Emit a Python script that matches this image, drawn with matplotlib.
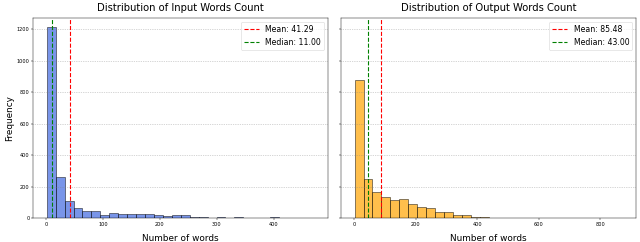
import matplotlib
matplotlib.use("Agg")
import matplotlib.pyplot as plt
import numpy as np

# histogram counts (30 bins each)
input_counts = [1210, 261, 110, 62, 43, 43, 19, 32, 26, 26,
                26, 26, 17, 11, 21, 17, 8, 7, 3, 6,
                2, 5, 2, 3, 3, 6, 1, 1, 1, 1]
input_min, input_max = 1, 472
input_mean, input_median = 41.29, 11.00

output_counts = [877, 249, 166, 136, 115, 124, 87, 68, 62, 40,
                 36, 19, 17, 6, 4, 3, 3, 2, 1, 1,
                 1, 0, 0, 0, 0, 0, 0, 0, 1, 2]
output_min, output_max = 1, 874
output_mean, output_median = 85.48, 43.00


def plot_panel(ax, counts, lo, hi, mean, median, color, title):
    edges = np.linspace(lo, hi, len(counts) + 1)
    ax.hist(edges[:-1], bins=edges, weights=counts, color=color,
            alpha=0.7, edgecolor="black", linewidth=1.2)
    ax.axvline(mean, color="red", linestyle="--", linewidth=2, label=f"Mean: {mean:.2f}")
    ax.axvline(median, color="green", linestyle="--", linewidth=2, label=f"Median: {median:.2f}")
    ax.set_title(title, fontsize=18, pad=12)
    ax.set_xlabel("Number of words", fontsize=16, labelpad=12)
    ax.grid(axis="y", linestyle=":", color="gray", linewidth=1.2, alpha=0.7)
    ax.tick_params(labelsize=9)
    ax.legend(fontsize=14, loc="upper right")


fig, (ax1, ax2) = plt.subplots(1, 2, figsize=(16, 6.05), dpi=40, sharey=True)

plot_panel(ax1, input_counts, input_min, input_max, input_mean, input_median,
           "royalblue", "Distribution of Input Words Count")
plot_panel(ax2, output_counts, output_min, output_max, output_mean, output_median,
           "orange", "Distribution of Output Words Count")
ax1.set_ylabel("Frequency", fontsize=16)

plt.subplots_adjust(left=0.052, right=0.994, bottom=0.099, top=0.926, wspace=0.044)
plt.savefig("out.png")
